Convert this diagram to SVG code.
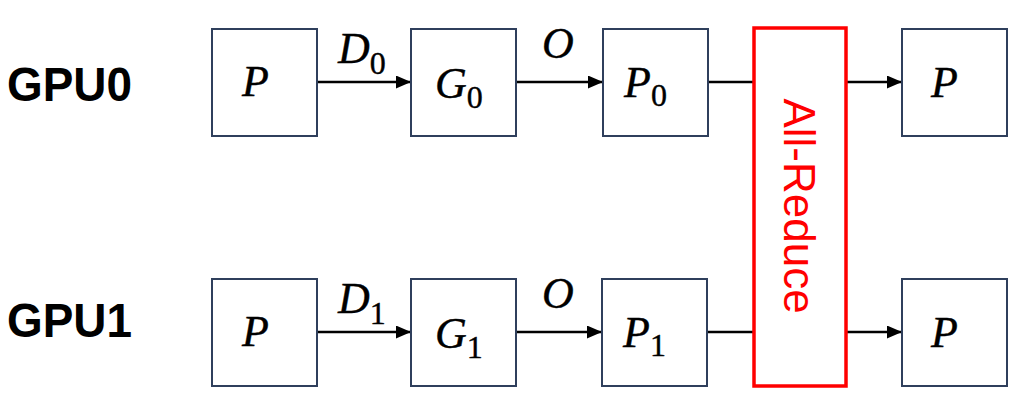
<svg xmlns="http://www.w3.org/2000/svg" width="1017" height="408" viewBox="0 0 1017 408">
<style>
.box{fill:#fff;stroke:#2F3F5C;stroke-width:2}
.red{fill:none;stroke:#FF0000;stroke-width:3.5}
.ln{stroke:#000;stroke-width:2.6;fill:none}
.m{font-family:"Liberation Serif",serif;font-style:italic;font-size:44px;fill:#000;stroke:#000;stroke-width:0.4}
.sub{font-style:normal;font-family:"Liberation Serif",serif;font-size:32px}
.gpu{font-family:"Liberation Sans",Arial,sans-serif;font-weight:bold;font-size:48px;fill:#000}
.ar{font-family:"Liberation Sans",Arial,sans-serif;font-size:44px;fill:#FF0000}
</style>
<defs>
<marker id="ah" viewBox="0 0 15 13" refX="15" refY="6.5" markerWidth="15" markerHeight="13" markerUnits="userSpaceOnUse" orient="auto">
<path d="M0,0 L15,6.5 L0,13 Z" fill="#000"/>
</marker>
</defs>
<g id="labels">
<text class="gpu" x="7" y="101" textLength="125" lengthAdjust="spacingAndGlyphs">GPU0</text>
<text class="gpu" x="7" y="337" textLength="125" lengthAdjust="spacingAndGlyphs">GPU1</text>
</g>
<g id="connectors">
<line class="ln" x1="317" y1="82" x2="411" y2="82" marker-end="url(#ah)"/>
<line class="ln" x1="516" y1="82" x2="603" y2="82" marker-end="url(#ah)"/>
<line class="ln" x1="708" y1="82" x2="753" y2="82"/>
<line class="ln" x1="846" y1="82" x2="902" y2="82" marker-end="url(#ah)"/>
<line class="ln" x1="317" y1="332" x2="411" y2="332" marker-end="url(#ah)"/>
<line class="ln" x1="516" y1="332" x2="602" y2="332" marker-end="url(#ah)"/>
<line class="ln" x1="707" y1="332" x2="753" y2="332"/>
<line class="ln" x1="846" y1="332" x2="902" y2="332" marker-end="url(#ah)"/>
<text class="m" x="338" y="63">D<tspan class="sub" dy="11">0</tspan></text>
<text class="m" x="542" y="58">O</text>
<text class="m" x="338" y="313">D<tspan class="sub" dy="11">1</tspan></text>
<text class="m" x="542" y="308">O</text>
</g>
<g id="p-top-left"><rect class="box" x="212" y="29" width="105" height="107"/><text class="m" x="242" y="96">P</text></g>
<g id="g0"><rect class="box" x="411" y="29" width="105" height="107"/><text class="m" x="435" y="98">G<tspan class="sub" dy="10">0</tspan></text></g>
<g id="p0"><rect class="box" x="603" y="29" width="105" height="107"/><text class="m" x="624" y="97">P<tspan class="sub" dy="9">0</tspan></text></g>
<g id="p-top-right"><rect class="box" x="902" y="29" width="105" height="107"/><text class="m" x="931" y="97">P</text></g>
<g id="p-bot-left"><rect class="box" x="212" y="279" width="105" height="107"/><text class="m" x="242" y="346">P</text></g>
<g id="g1"><rect class="box" x="411" y="279" width="105" height="107"/><text class="m" x="435" y="348">G<tspan class="sub" dy="10">1</tspan></text></g>
<g id="p1"><rect class="box" x="602" y="279" width="105" height="107"/><text class="m" x="623" y="347">P<tspan class="sub" dy="9">1</tspan></text></g>
<g id="p-bot-right"><rect class="box" x="902" y="279" width="105" height="107"/><text class="m" x="931" y="347">P</text></g>
<g id="all-reduce"><rect class="red" x="754" y="28" width="92" height="358"/><text class="ar" transform="translate(784,206) rotate(90)" text-anchor="middle" x="0" y="0">All-Reduce</text></g>
</svg>
